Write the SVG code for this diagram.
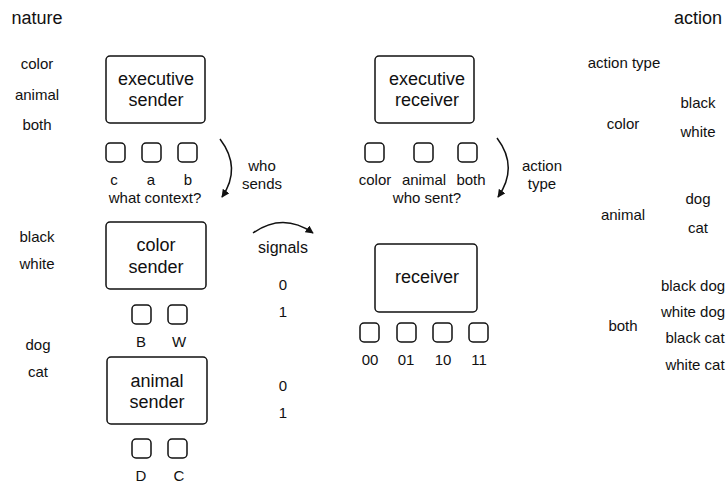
<svg xmlns="http://www.w3.org/2000/svg" width="727" height="483" viewBox="0 0 727 483">
<style>
text{font-family:"Liberation Sans",Arial,Helvetica,sans-serif;fill:#111;text-anchor:middle}
.s{font-size:15px}
.b{font-size:18px}
.h{font-size:18px}
.box{fill:#fff;stroke:#111;stroke-width:1.5}
.sq{fill:#fff;stroke:#111;stroke-width:1.5}
.arr{fill:none;stroke:#111;stroke-width:1.5;marker-end:url(#ah)}
</style>
<defs>
<marker id="ah" viewBox="0 0 10 10" refX="9" refY="5" markerWidth="8" markerHeight="8" orient="auto" markerUnits="userSpaceOnUse">
<path d="M0,0 L10,5 L0,10 z" fill="#111"/>
</marker>
</defs>
<rect width="727" height="483" fill="#fff"/>

<text class="h" x="37" y="24">nature</text>
<text class="h" x="698" y="24">action</text>

<g id="nature-labels">
<text class="s" x="37" y="69">color</text>
<text class="s" x="37" y="100">animal</text>
<text class="s" x="37" y="130">both</text>
<text class="s" x="37" y="242">black</text>
<text class="s" x="37" y="269">white</text>
<text class="s" x="38" y="350">dog</text>
<text class="s" x="38" y="377">cat</text>
</g>

<g id="executive-sender">
<rect class="box" x="106" y="56" width="99" height="67" rx="4"/>
<text class="b" x="156" y="85">executive</text>
<text class="b" x="156" y="106">sender</text>
<rect class="sq" x="106" y="143" width="19" height="19" rx="4"/>
<rect class="sq" x="142" y="143" width="19" height="19" rx="4"/>
<rect class="sq" x="178" y="143" width="19" height="19" rx="4"/>
<text class="s" x="114" y="185">c</text>
<text class="s" x="151" y="185">a</text>
<text class="s" x="188" y="185">b</text>
<text class="s" x="155" y="203">what context?</text>
</g>

<g id="color-sender">
<rect class="box" x="106" y="222" width="100" height="67" rx="4"/>
<text class="b" x="156" y="251">color</text>
<text class="b" x="156" y="273">sender</text>
<rect class="sq" x="132" y="305" width="19" height="19" rx="4"/>
<rect class="sq" x="168" y="305" width="19" height="19" rx="4"/>
<text class="s" x="141" y="347">B</text>
<text class="s" x="179" y="347">W</text>
</g>

<g id="animal-sender">
<rect class="box" x="107" y="357" width="100" height="67" rx="4"/>
<text class="b" x="157" y="387">animal</text>
<text class="b" x="157" y="408">sender</text>
<rect class="sq" x="132" y="439" width="19" height="19" rx="4"/>
<rect class="sq" x="168" y="439" width="19" height="19" rx="4"/>
<text class="s" x="141" y="481">D</text>
<text class="s" x="179" y="481">C</text>
</g>

<g id="signals">
<text class="s" x="262" y="171">who</text>
<text class="s" x="262" y="189">sends</text>
<text class="b" x="283" y="253" style="font-size:16px">signals</text>
<text class="s" x="283" y="290">0</text>
<text class="s" x="283" y="317">1</text>
<text class="s" x="283" y="391">0</text>
<text class="s" x="283" y="418">1</text>
</g>

<g id="executive-receiver">
<rect class="box" x="375" y="56" width="99" height="67" rx="4"/>
<text class="b" x="427" y="85">executive</text>
<text class="b" x="427" y="106">receiver</text>
<rect class="sq" x="365" y="143" width="19" height="19" rx="4"/>
<rect class="sq" x="414" y="143" width="19" height="19" rx="4"/>
<rect class="sq" x="458" y="143" width="19" height="19" rx="4"/>
<text class="s" x="375" y="185">color</text>
<text class="s" x="424" y="185">animal</text>
<text class="s" x="471" y="185">both</text>
<text class="s" x="427" y="203">who sent?</text>
<text class="s" x="542" y="171">action</text>
<text class="s" x="542" y="189">type</text>
</g>

<g id="receiver">
<rect class="box" x="375" y="244" width="102" height="68" rx="4"/>
<text class="b" x="427" y="283">receiver</text>
<rect class="sq" x="360" y="323" width="19" height="19" rx="4"/>
<rect class="sq" x="397" y="323" width="19" height="19" rx="4"/>
<rect class="sq" x="433" y="323" width="19" height="19" rx="4"/>
<rect class="sq" x="469" y="323" width="19" height="19" rx="4"/>
<text class="s" x="370" y="365">00</text>
<text class="s" x="406" y="365">01</text>
<text class="s" x="443" y="365">10</text>
<text class="s" x="479" y="365">11</text>
</g>

<g id="action-labels">
<text class="s" x="624" y="68">action type</text>
<text class="s" x="623" y="129">color</text>
<text class="s" x="698" y="108">black</text>
<text class="s" x="698" y="137">white</text>
<text class="s" x="623" y="220">animal</text>
<text class="s" x="698" y="204">dog</text>
<text class="s" x="698" y="233">cat</text>
<text class="s" x="623" y="331">both</text>
<text class="s" x="693" y="291">black dog</text>
<text class="s" x="693" y="317">white dog</text>
<text class="s" x="695" y="343">black cat</text>
<text class="s" x="695" y="370">white cat</text>
</g>

<g id="connectors">
<path class="arr" d="M220,139 Q242,168 222,197"/>
<path class="arr" d="M253,233 Q283,212 313,233"/>
<path class="arr" d="M497,138 Q519,167 498,197"/>
</g>
</svg>
